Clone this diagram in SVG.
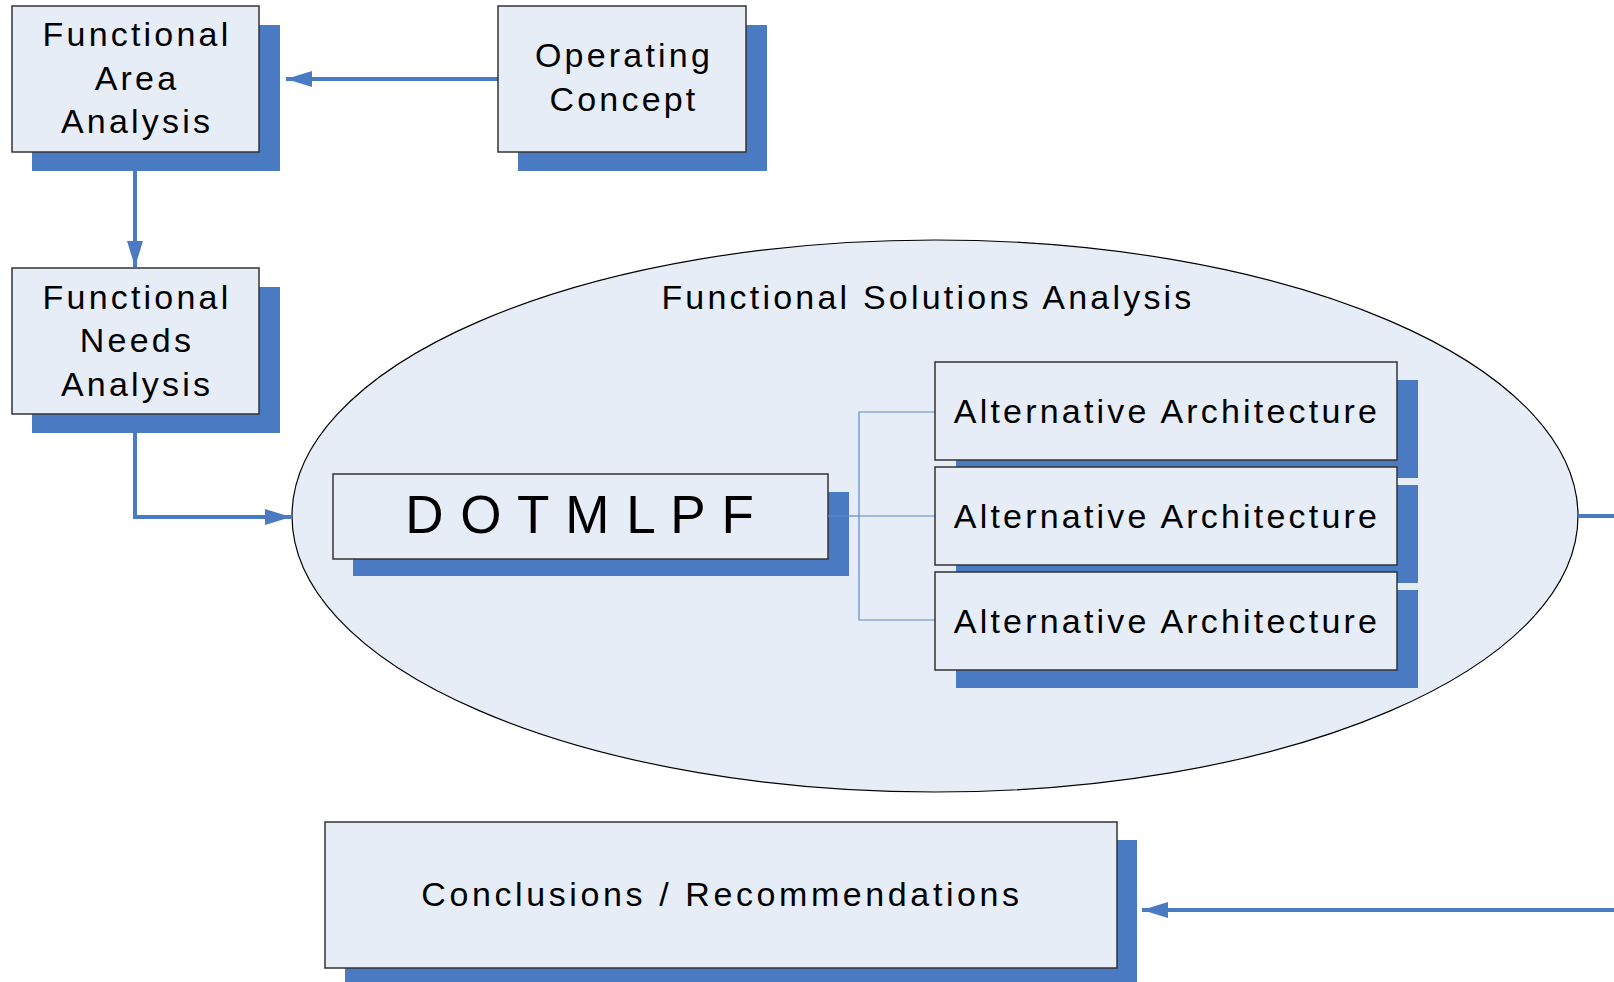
<svg xmlns="http://www.w3.org/2000/svg" width="1614" height="982" viewBox="0 0 1614 982">
  <defs>
    <style>
      .shadow { fill: #4a7bc2; }
      .box { fill: #e7edf7; stroke: #333333; stroke-width: 1.5; }
      .label { font-family: "Liberation Sans", Arial, sans-serif; font-size: 34px; letter-spacing: 3.2px; fill: #000000; text-anchor: middle; }
      .wide { letter-spacing: 3.6px; }
      .big { font-family: "Liberation Sans", Arial, sans-serif; font-size: 53px; letter-spacing: 1px; fill: #000000; text-anchor: middle; }
      .flow { fill: none; stroke: #4a7bc2; stroke-width: 4; }
      .tie { fill: none; stroke: #5b8ad0; stroke-width: 1.2; }
    </style>
    <marker id="arrow" markerWidth="28" markerHeight="16" refX="26" refY="8" orient="auto" markerUnits="userSpaceOnUse">
      <path d="M0,0 L26,8 L0,16 Z" fill="#4a7bc2"/>
    </marker>
  </defs>

  <rect width="1614" height="982" fill="#ffffff"/>

  <!-- Functional Solutions Analysis container -->
  <g id="functional-solutions-analysis">
    <ellipse cx="935" cy="516" rx="643" ry="276" fill="#e7edf7" stroke="#000000" stroke-width="1.2"/>
    <text class="label" x="928" y="309">Functional Solutions Analysis</text>
  </g>

  <!-- Connectors -->
  <g id="connectors">
    <line class="flow" x1="500" y1="79" x2="286" y2="79" marker-end="url(#arrow)"/>
    <line class="flow" x1="135" y1="152" x2="135" y2="267" marker-end="url(#arrow)"/>
    <polyline class="flow" points="135,414 135,517 291,517" marker-end="url(#arrow)"/>
    <line class="flow" x1="1578" y1="516" x2="1614" y2="516"/>
    <line class="flow" x1="1614" y1="910" x2="1142" y2="910" marker-end="url(#arrow)"/>
  </g>

  <g id="functional-area-analysis">
    <rect class="shadow" x="32" y="25" width="248" height="146"/>
    <rect class="box" x="12" y="6" width="247" height="146"/>
    <text class="label" x="137" y="46">Functional</text>
    <text class="label" x="137" y="90">Area</text>
    <text class="label" x="137" y="133">Analysis</text>
  </g>

  <g id="operating-concept">
    <rect class="shadow" x="518" y="25" width="249" height="146"/>
    <rect class="box" x="498" y="6" width="248" height="146"/>
    <text class="label" x="624" y="67">Operating</text>
    <text class="label" x="624" y="111">Concept</text>
  </g>

  <g id="functional-needs-analysis">
    <rect class="shadow" x="32" y="287" width="248" height="146"/>
    <rect class="box" x="12" y="268" width="247" height="146"/>
    <text class="label" x="137" y="309">Functional</text>
    <text class="label" x="137" y="352">Needs</text>
    <text class="label" x="137" y="396">Analysis</text>
  </g>

  <g id="dotmlpf">
    <rect class="shadow" x="353" y="492" width="496" height="84"/>
    <rect class="box" x="333" y="474" width="495" height="85"/>
    <text class="big" x="580" y="533">D O T M L P F</text>
  </g>

  <!-- Branch lines from DOTMLPF to the alternatives -->
  <g id="branches">
    <polyline class="tie" points="828,516 859,516"/>
    <polyline class="tie" points="935,412 859,412 859,620 935,620"/>
    <line class="tie" x1="859" y1="516" x2="935" y2="516"/>
  </g>

  <g id="alternative-architecture-1">
    <rect class="shadow" x="956" y="380" width="462" height="98"/>
    <rect class="box" x="935" y="362" width="462" height="98"/>
    <text class="label" x="1167" y="423">Alternative Architecture</text>
  </g>

  <g id="alternative-architecture-2">
    <rect class="shadow" x="956" y="485" width="462" height="98"/>
    <rect class="box" x="935" y="467" width="462" height="98"/>
    <text class="label" x="1167" y="528">Alternative Architecture</text>
  </g>

  <g id="alternative-architecture-3">
    <rect class="shadow" x="956" y="590" width="462" height="98"/>
    <rect class="box" x="935" y="572" width="462" height="98"/>
    <text class="label" x="1167" y="633">Alternative Architecture</text>
  </g>

  <g id="conclusions-recommendations">
    <rect class="shadow" x="345" y="840" width="792" height="146"/>
    <rect class="box" x="325" y="822" width="792" height="146"/>
    <text class="label wide" x="722" y="906">Conclusions / Recommendations</text>
  </g>
</svg>
